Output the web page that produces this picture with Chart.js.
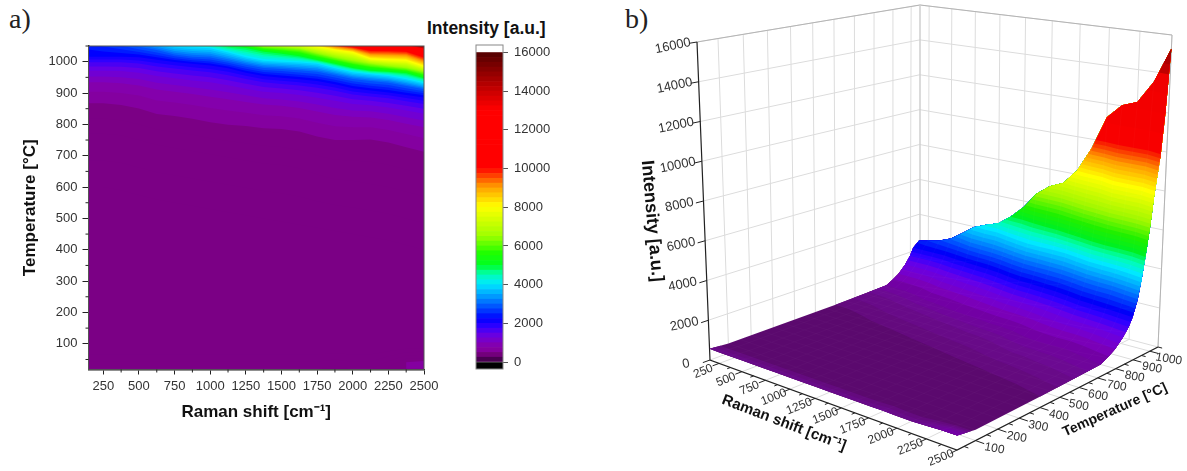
<!DOCTYPE html>
<html>
<head>
<meta charset="utf-8">
<title>Raman intensity map</title>
<script src="https://cdn.jsdelivr.net/npm/chart.js@4"></script>
<style>
  body { margin: 0; background: #fff; width: 1187px; height: 471px; overflow: hidden; position: relative; }
  canvas { position: absolute; filter: blur(0.4px); }
  .tag { position: absolute; font-family: "Liberation Serif", serif; font-size: 28px; color: #222; }
  .barTitle { position: absolute; left: 427px; top: 18px; font: bold 17.5px "Liberation Sans", Arial, sans-serif; color: #111; white-space: nowrap; }
</style>
</head>
<body>
<div class="tag" style="left:9px;top:3px">a)</div>
<div class="tag" style="left:625px;top:3px">b)</div>
<div class="barTitle">Intensity [a.u.]</div>
<canvas id="mapChart" width="445" height="440" style="left:0;top:0"></canvas>
<canvas id="barChart" width="130" height="440" style="left:440px;top:0"></canvas>
<canvas id="surfaceChart" width="597" height="471" style="left:590px;top:0"></canvas>
<script>
const ramanTicks = [250, 500, 750, 1000, 1250, 1500, 1750, 2000, 2250, 2500];
const ramanMinorTicks = [375, 625, 875, 1125, 1375, 1625, 1875, 2125, 2375];
const tempTicks = [100, 200, 300, 400, 500, 600, 700, 800, 900, 1000];
const tempMinorTicks = [50, 150, 250, 350, 450, 550, 650, 750, 850, 950, 1050];
const intensityTicks = [0, 2000, 4000, 6000, 8000, 10000, 12000, 14000, 16000];
const meshTemps = [100, 150, 200, 250, 300, 350, 400, 450, 500, 550, 600, 650, 700, 750, 800, 850, 900, 950, 1000];

// columns of the map, and the intensity along its near and far edges
const ramanCols = [146, 250, 375, 500, 625, 750, 875, 1000, 1125, 1250, 1375, 1500, 1625, 1750, 1875, 2000, 2125, 2250, 2375, 2500];
const frontEdge = [560, 560, 560, 560, 560, 560, 560, 560, 560, 560, 560, 560, 560, 560, 570, 560, 560, 590, 640, 650];
const nearFront = [490, 490, 490, 490, 490, 490, 490, 490, 490, 490, 490, 490, 490, 490, 490, 490, 490, 490, 490, 490];
const backEdge = [2500, 2620, 2780, 3040, 3500, 3980, 4260, 4500, 5020, 5660, 6540, 7090, 7410, 8210, 9530, 11280, 12040, 12320, 13480, 15300];

// temperature of each contour along ramanCols, null where the contour is off the top
const t520 = [600, 600, 590, 575, 560, 550, 540, 530, 520, 510, 500, 490, 480, 470, 460, 450, 440, 430, 415, 400];
const t560 = [770, 770, 765, 750, 735, 725, 715, 705, 695, 685, 675, 670, 660, 640, 625, 620, 610, 600, 585, 570];
const t600 = [867, 867, 862, 851, 833, 827, 818, 807, 799, 795, 788, 785, 777, 761, 750, 750, 752, 742, 727, 713];
const t800 = [904, 904, 900, 892, 876, 870, 862, 852, 844, 837, 829, 826, 819, 805, 794, 791, 791, 782, 769, 756];
const t1000 = [934, 934, 931, 924, 911, 904, 897, 888, 880, 871, 863, 859, 852, 841, 830, 824, 822, 814, 802, 791];
const t1400 = [971, 971, 970, 965, 954, 947, 940, 934, 925, 914, 904, 900, 894, 885, 875, 865, 861, 854, 844, 834];
const t1800 = [998, 998, 998, 994, 985, 978, 972, 966, 957, 945, 934, 929, 924, 917, 907, 895, 889, 883, 874, 865];
const t2200 = [1016, 1016, 1016, 1014, 1006, 999, 993, 988, 979, 965, 954, 949, 944, 938, 928, 915, 908, 902, 894, 886];
const t3000 = [null, null, null, 1048, 1037, 1023, 1016, 1013, 1002, 990, 980, 977, 973, 968, 957, 945, 938, 933, 922, 912];
const t4000 = [null, null, null, null, null, null, 1046, 1043, 1029, 1014, 1003, 1000, 997, 993, 979, 966, 960, 954, 944, 931];
const t5000 = [null, null, null, null, null, null, null, null, 1049, 1044, 1032, 1025, 1017, 1005, 993, 980, 971, 968, 963, 947];
const t6500 = [null, null, null, null, null, null, null, null, null, null, 1049, 1046, 1041, 1027, 1014, 1003, 993, 986, 980, 968];
const t8000 = [null, null, null, null, null, null, null, null, null, null, null, null, null, 1047, 1037, 1029, 1008, 1005, 1003, 984];
const t10000 = [null, null, null, null, null, null, null, null, null, null, null, null, null, null, null, 1046, 1034, 1034, 1032, 1013];
const t12000 = [null, null, null, null, null, null, null, null, null, null, null, null, null, null, null, null, 1049, 1048, 1042, 1030];
const t14000 = [null, null, null, null, null, null, null, null, null, null, null, null, null, null, null, null, null, null, null, 1042];
const contourLevels = [520, 560, 600, 800, 1000, 1400, 1800, 2200, 3000, 4000, 5000, 6500, 8000, 10000, 12000, 14000];
const contourTemps = [t520, t560, t600, t800, t1000, t1400, t1800, t2200, t3000, t4000, t5000, t6500, t8000, t10000, t12000, t14000];

// colour bands
const fillLevels = [520, 540, 560, 580, 600, 800, 1000, 1200, 1400, 1600, 1800, 2000, 2200, 2400, 2600, 2800, 3000, 3200, 3400, 3600, 3800, 4000, 4200, 4400, 4600, 4800, 5000, 5200, 5400, 5600, 5800, 6000, 6200, 6400, 6600, 6800, 7000, 7200, 7400, 7600, 7800, 8000, 8200, 8400, 8600, 8800, 9000, 9200, 9400, 9600, 9800, 10000, 11000, 12000, 13000, 14000, 14500, 15000];
const barLevels = [0, 250, 500, 750, 1000, 1250, 1500, 1750, 2000, 2250, 2500, 2750, 3000, 3250, 3500, 3750, 4000, 4250, 4500, 4750, 5000, 5250, 5500, 5750, 6000, 6250, 6500, 6750, 7000, 7250, 7500, 7750, 8000, 8250, 8500, 8750, 9000, 9250, 9500, 9750, 10000, 10250, 10500, 10750, 11000, 11250, 11500, 11750, 12000, 12250, 12500, 12750, 13000, 13250, 13500, 13750, 14000, 14250, 14500, 14750, 15000, 15250, 15500, 15750];
const paletteLevels = [0, 400, 590, 600, 800, 1000, 1400, 1800, 2200, 2800, 3400, 4000, 4500, 5000, 5600, 6500, 8000, 9000, 10000, 13000, 14000, 16000];
const paletteColors = ['#380040', '#7b0085', '#7b0085', '#8400a0', '#8400ac', '#7d00c0', '#6500e6', '#3000ff', '#0000ff', '#0050ff', '#00a0ff', '#00e8ff', '#00ffb0', '#00ff20', '#20ff00', '#a0ff00', '#ffff00', '#ffa000', '#ff0000', '#ff0000', '#c80000', '#500000'];
const shadedLevels = [480, 520, 560, 600, 800, 1000, 1400, 1800, 2200, 2800, 3400, 4000, 4500, 5000, 5600, 6500, 8000, 9000, 10000, 13000, 14000, 16000];
const shadedColors = ['#580868', '#640a7e', '#6c0a92', '#7200a4', '#7a00b8', '#7500cc', '#6400e8', '#3000ff', '#0000f8', '#0050ff', '#00a0ff', '#00e8ff', '#00ffb0', '#00f020', '#20f000', '#a0f800', '#ffff00', '#ffa000', '#f80000', '#f00000', '#c00000', '#700000'];

const FONT = '"Liberation Sans", Arial, sans-serif';
const frontTemp = 20, nearTemp = 100, backTemp = 1050;
const minRaman = ramanCols[0], maxRaman = ramanCols[ramanCols.length - 1];
const maxIntensity = 16000;

function colorAt(level, levels, colors) {
  let i = 0;
  while (i < levels.length - 2 && level > levels[i + 1]) i++;
  const f = Math.max(0, Math.min(1, (level - levels[i]) / (levels[i + 1] - levels[i])));
  const rgb = k => {
    const a = parseInt(colors[i].substr(1 + k * 2, 2), 16);
    const b = parseInt(colors[i + 1].substr(1 + k * 2, 2), 16);
    return Math.round(a + (b - a) * f);
  };
  return `rgb(${rgb(0)},${rgb(1)},${rgb(2)})`;
}

// intensity against temperature in one column, low T first
function columnProfile(c) {
  const p = [{ r: ramanCols[c], t: frontTemp, z: frontEdge[c] }, { r: ramanCols[c], t: nearTemp, z: nearFront[c] }];
  contourLevels.forEach((lvl, k) => {
    const t = contourTemps[k][c];
    if (t !== null) p.push({ r: ramanCols[c], t: t, z: lvl });
  });
  p.push({ r: ramanCols[c], t: backTemp, z: backEdge[c] });
  return p;
}
const profiles = ramanCols.map((_, c) => columnProfile(c));

function tempOfLevel(p, level) {
  for (let i = p.length - 1; i > 0; i--) {
    if (p[i].z >= level && p[i - 1].z < level) {
      return p[i - 1].t + (p[i].t - p[i - 1].t) * (level - p[i - 1].z) / (p[i].z - p[i - 1].z);
    }
  }
  return p[0].t;
}

function levelOfTemp(p, t) {
  for (let i = 1; i < p.length; i++) {
    if (t <= p[i].t) return p[i - 1].z + (p[i].z - p[i - 1].z) * (t - p[i - 1].t) / (p[i].t - p[i - 1].t);
  }
  return p[p.length - 1].z;
}

// outline of the surface above a contour level, closed along the far edge
function levelOutline(level) {
  const on = ramanCols.map((_, c) => backEdge[c] >= level);
  const first = on.indexOf(true), last = on.lastIndexOf(true), n = ramanCols.length - 1;
  if (first < 0) return [];
  const pts = [];
  const crossing = (a, b) => ({
    r: ramanCols[a] + (ramanCols[b] - ramanCols[a]) * (level - backEdge[a]) / (backEdge[b] - backEdge[a]),
    t: backTemp, z: level
  });
  if (first > 0) pts.push(crossing(first - 1, first));
  else profiles[0].slice().reverse().forEach(q => { if (q.z > level && q.t > nearTemp) pts.push(q); });
  for (let c = first; c <= last; c++) pts.push({ r: ramanCols[c], t: tempOfLevel(profiles[c], level), z: level });
  if (last < n) pts.push(crossing(last + 1, last));
  else profiles[n].forEach(q => { if (q.z > level && q.t > nearTemp) pts.push(q); });
  for (let c = last; c >= first; c--) pts.push({ r: ramanCols[c], t: backTemp, z: backEdge[c] });
  return pts;
}

function wholeOutline() {
  const n = ramanCols.length - 1, pts = [];
  for (let c = 0; c <= n; c++) pts.push({ r: ramanCols[c], t: frontTemp, z: frontEdge[c] });
  profiles[n].slice(1).forEach(q => pts.push(q));
  for (let c = n; c >= 0; c--) pts.push({ r: ramanCols[c], t: backTemp, z: backEdge[c] });
  profiles[0].slice(1).reverse().forEach(q => pts.push(q));
  return pts;
}

// the slight rise along the near edge
function frontOutline(level) {
  const cols = ramanCols.map((_, c) => c).filter(c => frontEdge[c] >= level);
  if (!cols.length) return [];
  const pts = cols.map(c => ({ r: ramanCols[c], t: frontTemp, z: frontEdge[c] }));
  cols.slice().reverse().forEach(c => {
    const t = frontTemp + (nearTemp - frontTemp) * (frontEdge[c] - level) / (frontEdge[c] - nearFront[c]);
    pts.push({ r: ramanCols[c], t: t, z: level });
  });
  return pts;
}

function bandSets(toPoint, colorOf) {
  const sets = [{ outline: wholeOutline(), level: nearFront[0] }];
  fillLevels.filter(l => l <= 600).forEach(l => sets.push({ outline: frontOutline(l), level: l }));
  fillLevels.forEach(l => sets.push({ outline: levelOutline(l), level: l }));
  return sets.filter(s => s.outline.length).map(s => ({
    data: s.outline.map(toPoint),
    showLine: true,
    fill: 'shape',
    backgroundColor: colorOf(s.level),
    borderWidth: 0,
    pointRadius: 0,
    tension: 0
  }));
}

// Chart.js paints the lowest index last, so reverse the painter order
function paintInOrder(sets) {
  sets.forEach((d, i) => { d.order = sets.length - i; });
  return sets;
}

const framePlugin = {
  id: 'frame',
  afterDatasetsDraw(chart, args, opts) {
    if (!opts.color) return;
    const a = chart.chartArea, ctx = chart.ctx;
    ctx.save();
    ctx.strokeStyle = opts.color;
    ctx.lineWidth = opts.width || 1;
    ctx.strokeRect(a.left, a.top, a.right - a.left, a.bottom - a.top);
    ctx.restore();
  }
};
Chart.register(framePlugin);

const minorTicksPlugin = {
  id: 'minorTicks',
  afterDraw(chart) {
    const ctx = chart.ctx, a = chart.chartArea;
    ctx.save();
    ctx.strokeStyle = '#222';
    ctx.lineWidth = 1;
    ctx.beginPath();
    ramanMinorTicks.forEach(v => {
      const x = chart.scales.x.getPixelForValue(v);
      ctx.moveTo(x, a.bottom);
      ctx.lineTo(x, a.bottom + 3);
    });
    tempMinorTicks.forEach(v => {
      const y = chart.scales.y.getPixelForValue(v);
      ctx.moveTo(a.left, y);
      ctx.lineTo(a.left - 3, y);
    });
    ctx.stroke();
    ctx.restore();
  }
};

// --- a) contour map
new Chart(document.getElementById('mapChart'), {
  type: 'scatter',
  data: {
    datasets: paintInOrder(bandSets(q => ({ x: q.r, y: q.t }), l => colorAt(l, paletteLevels, paletteColors)))
  },
  plugins: [minorTicksPlugin],
  options: {
    responsive: false,
    animation: false,
    events: [],
    layout: { padding: { top: 46, right: 21, left: 0, bottom: 0 } },
    plugins: {
      legend: { display: false },
      tooltip: { enabled: false },
      frame: { color: '#555', width: 1 }
    },
    scales: {
      x: {
        min: minRaman,
        max: maxRaman,
        afterBuildTicks: s => { s.ticks = ramanTicks.map(v => ({ value: v })); },
        afterFit: s => { s.height = 70.5; },
        grid: { drawOnChartArea: false, tickLength: 5, color: '#222' },
        border: { color: '#222', width: 1.5 },
        ticks: { color: '#333', font: { family: FONT, size: 13 }, maxRotation: 0, padding: 4, autoSkip: false, callback: v => String(v) },
        title: { display: true, text: 'Raman shift [cm⁻¹]', color: '#111', font: { family: FONT, size: 17, weight: 'bold' }, padding: { top: 0, bottom: 17 } }
      },
      y: {
        min: frontTemp - 2,
        max: backTemp,
        afterBuildTicks: s => { s.ticks = tempTicks.map(v => ({ value: v })); },
        afterFit: s => { s.width = 88.5; },
        grid: { drawOnChartArea: false, tickLength: 6, color: '#222' },
        border: { color: '#222', width: 1.5 },
        ticks: { color: '#333', font: { family: FONT, size: 13 }, padding: 5, autoSkip: false, callback: v => String(v) },
        title: { display: true, text: 'Temperature [°C]', color: '#111', font: { family: FONT, size: 17, weight: 'bold' }, padding: { top: 20, bottom: 0 } }
      }
    }
  }
});

// --- colour scale
const barSets = barLevels.map((lvl, i) => ({
  data: [[lvl, i + 1 < barLevels.length ? barLevels[i + 1] : maxIntensity]],
  backgroundColor: colorAt(lvl + 100, paletteLevels, paletteColors)
}));
barSets.push({ data: [[-360, 0]], backgroundColor: '#000' });
new Chart(document.getElementById('barChart'), {
  type: 'bar',
  data: { labels: [''], datasets: barSets },
  options: {
    responsive: false,
    animation: false,
    events: [],
    layout: { padding: { top: 45, left: 36, right: 0, bottom: 71 } },
    plugins: {
      legend: { display: false },
      tooltip: { enabled: false },
      frame: { color: '#888', width: 1 }
    },
    datasets: { bar: { barPercentage: 1, categoryPercentage: 1, borderWidth: 0 } },
    scales: {
      x: { display: false, stacked: true },
      y: {
        position: 'right',
        min: -360,
        max: 16390,
        afterBuildTicks: s => { s.ticks = intensityTicks.map(v => ({ value: v })); },
        afterFit: s => { s.width = 67; },
        grid: { drawOnChartArea: false, tickLength: 5, color: '#555' },
        border: { display: false },
        ticks: { color: '#333', font: { family: FONT, size: 13 }, padding: 6, autoSkip: false, callback: v => String(v) }
      }
    }
  }
});

// --- b) surface: the box seen in perspective, set by its floor and roof corners
const floorCorners = [[710, 360], [957, 450], [1158, 347], [919, 284]];
const roofCorners = [[697, 42], [960, 92], [1172, 35], [920, 5]];

function squareToQuad(q) {
  const [x0, y0] = q[0], [x1, y1] = q[1], [x2, y2] = q[2], [x3, y3] = q[3];
  const dx1 = x1 - x2, dx2 = x3 - x2, sx = x0 - x1 + x2 - x3;
  const dy1 = y1 - y2, dy2 = y3 - y2, sy = y0 - y1 + y2 - y3;
  const den = dx1 * dy2 - dx2 * dy1;
  const g = (sx * dy2 - dx2 * sy) / den, h = (dx1 * sy - sx * dy1) / den;
  return (u, v) => {
    const w = g * u + h * v + 1;
    return [
      ((x1 - x0 + g * x1) * u + (x3 - x0 + h * x3) * v + x0) / w,
      ((y1 - y0 + g * y1) * u + (y3 - y0 + h * y3) * v + y0) / w
    ];
  };
}
const floorMap = squareToQuad(floorCorners), roofMap = squareToQuad(roofCorners);

function project(r, t, z) {
  const u = (r - minRaman) / (maxRaman - minRaman), v = (t - frontTemp) / (backTemp - frontTemp);
  const a = floorMap(u, v), b = roofMap(u, v), f = z / maxIntensity;
  return { x: a[0] + (b[0] - a[0]) * f, y: a[1] + (b[1] - a[1]) * f };
}

function lineSet(points, color, width) {
  return { data: points, showLine: true, fill: false, borderColor: color, borderWidth: width, pointRadius: 0, tension: 0 };
}

const wallSets = [];
const wallColor = '#dcdcdc', edgeColor = '#b4b4b4', axisColor = '#222';
tempTicks.forEach(t => {
  wallSets.push(lineSet([project(minRaman, t, 0), project(minRaman, t, maxIntensity)], wallColor, 1));
  wallSets.push(lineSet([project(minRaman, t, 0), project(maxRaman, t, 0)], wallColor, 1));
});
ramanTicks.forEach(r => {
  wallSets.push(lineSet([project(r, backTemp, 0), project(r, backTemp, maxIntensity)], wallColor, 1));
  wallSets.push(lineSet([project(r, frontTemp, 0), project(r, backTemp, 0)], wallColor, 1));
});
intensityTicks.forEach(z => {
  wallSets.push(lineSet([project(minRaman, frontTemp, z), project(minRaman, backTemp, z), project(maxRaman, backTemp, z)], wallColor, 1));
});
wallSets.push(lineSet([project(minRaman, frontTemp, maxIntensity), project(minRaman, backTemp, maxIntensity), project(maxRaman, backTemp, maxIntensity), project(maxRaman, backTemp, 0)], edgeColor, 1));
wallSets.push(lineSet([project(minRaman, backTemp, 0), project(minRaman, backTemp, maxIntensity)], '#cfcfcf', 1.5));

const axisSets = [];
axisSets.push(lineSet([project(minRaman, frontTemp, maxIntensity), project(minRaman, frontTemp, 0), project(maxRaman, frontTemp, 0), project(maxRaman, backTemp, 0)], axisColor, 1.2));
intensityTicks.forEach(z => axisSets.push(lineSet([project(minRaman, frontTemp, z), project(minRaman, frontTemp - 30, z)], axisColor, 1)));
ramanTicks.forEach(r => axisSets.push(lineSet([project(r, frontTemp, 0), project(r, frontTemp - 28, 0)], axisColor, 1)));
ramanMinorTicks.forEach(r => axisSets.push(lineSet([project(r, frontTemp, 0), project(r, frontTemp - 14, 0)], axisColor, 1)));
tempTicks.forEach(t => axisSets.push(lineSet([project(maxRaman, t, 0), project(maxRaman + 70, t, 0)], axisColor, 1)));
tempMinorTicks.forEach(t => axisSets.push(lineSet([project(maxRaman, t, 0), project(maxRaman + 35, t, 0)], axisColor, 1)));

const meshSets = [];
const meshColor = 'rgba(255,255,255,0.03)';
profiles.forEach(p => meshSets.push(lineSet(p.map(q => project(q.r, q.t, q.z)), meshColor, 0.7)));
meshTemps.forEach(t => {
  meshSets.push(lineSet(profiles.map(p => project(p[0].r, t, levelOfTemp(p, t))), meshColor, 0.7));
});

const surfaceSets = bandSets(q => project(q.r, q.t, q.z), l => colorAt(l, shadedLevels, shadedColors));

const axisTextPlugin = {
  id: 'axisText',
  afterDraw(chart) {
    const ctx = chart.ctx, sx = chart.scales.x, sy = chart.scales.y;
    const put = (text, p, dx, dy, deg, font, color) => {
      ctx.save();
      ctx.translate(sx.getPixelForValue(p.x) + dx, sy.getPixelForValue(p.y) + dy);
      ctx.rotate(deg * Math.PI / 180);
      ctx.font = font;
      ctx.fillStyle = color;
      ctx.textAlign = 'center';
      ctx.textBaseline = 'middle';
      ctx.fillText(text, 0, 0);
      ctx.restore();
    };
    const tickFont = '12px ' + FONT;
    intensityTicks.forEach(z => put(String(z), project(minRaman, frontTemp, z), -24, 4, -12, '13px ' + FONT, '#333'));
    ramanTicks.forEach(r => put(String(r), project(r, frontTemp, 0), -16, 8, -22, tickFont, '#333'));
    tempTicks.forEach(t => put(String(t), project(maxRaman, t, 0), 19, 8, 10, tickFont, '#333'));
    put('Intensity [a.u.]', project(minRaman, frontTemp, 0), -58, -139, 85, 'bold 18px ' + FONT, '#111');
    put('Raman shift [cm⁻¹]', project(minRaman, frontTemp, 0), 74, 63, 21, 'bold 15px ' + FONT, '#111');
    put('Temperature [°C]', project(maxRaman, frontTemp, 0), 158, -40, -24, 'bold 14px ' + FONT, '#111');
  }
};

new Chart(document.getElementById('surfaceChart'), {
  type: 'scatter',
  data: { datasets: paintInOrder([].concat(wallSets, axisSets, surfaceSets, meshSets)) },
  plugins: [axisTextPlugin],
  options: {
    responsive: false,
    animation: false,
    events: [],
    layout: { padding: 0 },
    plugins: { legend: { display: false }, tooltip: { enabled: false } },
    scales: {
      x: { display: false, min: 590, max: 1187 },
      y: { display: false, min: 0, max: 471, reverse: true }
    }
  }
});
</script>
</body>
</html>
